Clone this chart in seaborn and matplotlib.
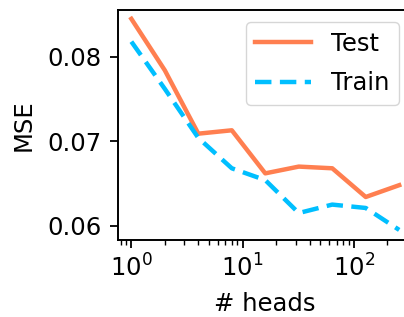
import numpy as np
import pandas as pd
import matplotlib
matplotlib.use("Agg")
import matplotlib.pyplot as plt
import seaborn as sns

heads = [1, 2, 4, 8, 16, 32, 64, 128, 256]
test_mse = [0.0845, 0.0784, 0.0709, 0.0713, 0.0662, 0.0670, 0.0668, 0.0634, 0.0648]
train_mse = [0.0818, 0.0762, 0.0704, 0.0668, 0.0654, 0.0615, 0.0625, 0.0621, 0.0595]
series = ["Test", "Train"]
colors = {"Test": "#FF7F50", "Train": "#00BFFF"}

df = pd.DataFrame({
    "heads": heads * 2,
    "MSE": test_mse + train_mse,
    "Split": [series[0]] * len(heads) + [series[1]] * len(heads),
})

plt.rcdefaults()
plt.rcParams["font.family"] = ["DejaVu Sans"]
fs = 17.5
plt.rcParams["font.size"] = fs

fig = plt.figure(figsize=(4.04, 3.17), dpi=100)
ax = fig.add_axes([0.292, 0.243, 0.729, 0.725])
sns.lineplot(data=df, x="heads", y="MSE", hue="Split", style="Split",
             palette=colors, dashes={"Test": "", "Train": (3.7, 1.9)},
             linewidth=3.2, ax=ax)
ax.set_xscale("log")
ax.set_xlim(0.758, 337)
ax.set_ylim(0.05831, 0.08553)
ax.set_yticks([0.06, 0.07, 0.08])
ax.set_yticklabels(["0.06", "0.07", "0.08"])
ax.set_xlabel("# heads", fontsize=fs, labelpad=7.5)
ax.set_ylabel("MSE", fontsize=fs, labelpad=8)
ax.tick_params(labelsize=fs, width=1.3, length=6, colors="black")
ax.tick_params(axis="y", pad=6)
ax.tick_params(axis="x", pad=4.5)
ax.tick_params(which="minor", width=1.0, length=3.5)
for s in ax.spines.values():
    s.set_linewidth(1.4)
    s.set_visible(True)
    s.set_color("black")
leg = ax.legend(loc="upper right", bbox_to_anchor=(0.995, 1.002), fontsize=fs,
                handlelength=2.3, labelspacing=0.65, title=None)
fig.savefig("out.png", dpi=100)
